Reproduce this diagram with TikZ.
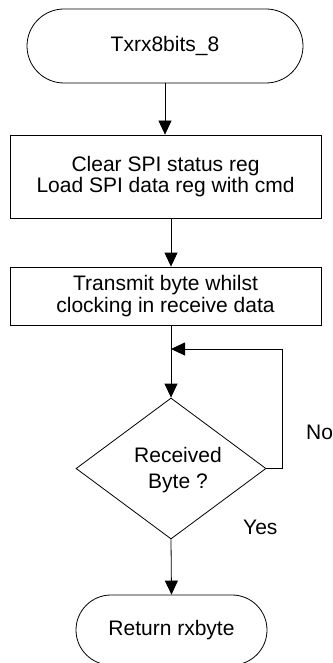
\documentclass[tikz,border=0pt]{standalone}
\usepackage{fontspec}
\setmainfont{Liberation Sans}
\usetikzlibrary{shapes.misc,shapes.geometric,arrows.meta}
\tikzset{
  base/.style={draw=black, line width=0.8pt, font=\fontsize{21}{21.5}\selectfont, align=center, inner sep=0pt},
  term/.style={base, rounded rectangle},
  procbox/.style={base, rectangle, minimum width=311pt},
  decbox/.style={base, diamond, minimum width=190pt, minimum height=141pt},
  txt/.style={font=\fontsize{21}{26}\selectfont, align=center, inner sep=0pt},
  lbl/.style={font=\fontsize{21}{21.5}\selectfont, inner sep=0pt, anchor=base west},
  arr/.style={line width=0.8pt, -{Triangle[length=14pt,width=13pt]}}
}
\begin{document}
\begin{tikzpicture}[x=1pt,y=-1pt]
\useasboundingbox (0,0) rectangle (332,663);
\clip (0,0) rectangle (332,663);
\node[term, minimum width=276pt, minimum height=74pt] (start) at (165,46) {Txrx8bits\_8};
\node[procbox, minimum height=83pt] (b1) at (165.5,176.5) {Clear SPI status reg\\Load SPI data reg with cmd};
\node[procbox, minimum height=58pt] (b2) at (165.5,296) {Transmit byte whilst\\clocking in receive data};
\node[decbox] (d) at (171,468.5) {};
\node[txt] (dt) at (178,470) {Received\\Byte ?};
\node[term, minimum width=191pt, minimum height=70pt] (end) at (171.5,630) {Return rxbyte};
\node[lbl] (no) at (306,439) {No};
\node[lbl] (yes) at (243,534) {Yes};
\coordinate (lp) at (171,349);
\coordinate (cr) at (282,349);
\draw[arr] (start.south) -- (start.south |- b1.north);
\draw[arr] (b1.south -| d.north) -- (b2.north -| d.north);
\draw[arr] (b2.south -| d.north) -- (d.north);
\draw[arr] (d.east) -| (cr) -- (lp);
\draw[arr] (d.south) -- (end.north);
\end{tikzpicture}
\end{document}
